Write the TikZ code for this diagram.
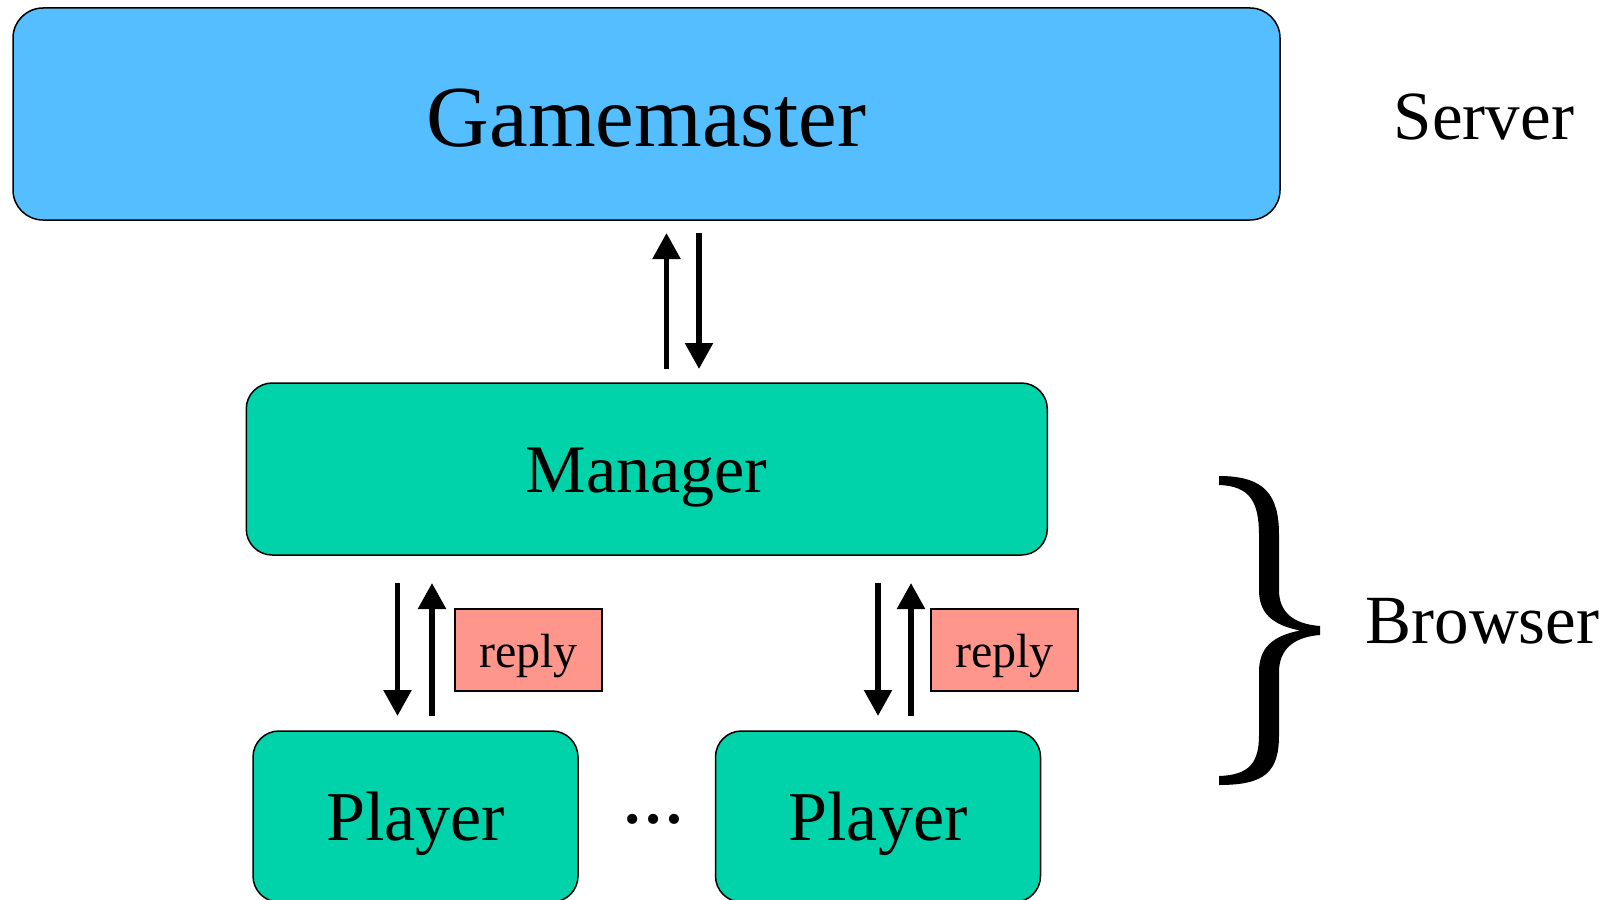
\documentclass[tikz,border=0pt]{standalone}
\usepackage{fontspec}
\setmainfont{Liberation Serif}
\usetikzlibrary{arrows.meta}
\definecolor{gmblue}{HTML}{55BEFF}
\definecolor{tealbox}{HTML}{00D2AA}
\definecolor{replyred}{HTML}{FF968C}
\begin{document}
\begin{tikzpicture}[x=1pt,y=-1pt,
  box/.style={draw=black, line width=1.5pt, rounded corners=26pt, inner sep=0pt, outer sep=0pt},
  replybox/.style={draw=black, line width=1.3pt, fill=replyred, inner sep=0pt, outer sep=0pt,
    minimum width=147pt, minimum height=82pt, text height=34pt, text depth=0pt,
    font=\fontsize{48}{52}\selectfont},
  playerbox/.style={box, fill=tealbox, minimum width=325pt, minimum height=171pt,
    text height=47pt, text depth=0pt, font=\fontsize{70}{74}\selectfont},
  sidelabel/.style={anchor=base, inner sep=0pt, font=\fontsize{69}{72}\selectfont},
  arr/.style={line width=5.5pt, -{Triangle[length=26pt,width=27pt]}}]
\useasboundingbox (0,0) rectangle (1621,899);

\node[box, rounded corners=30pt, fill=gmblue, minimum width=1267pt, minimum height=212pt,
  text height=64pt, text depth=0pt, font=\fontsize{87}{90}\selectfont] (gm) at (646.5,114) {Gamemaster};
\node[box, fill=tealbox, minimum width=801pt, minimum height=172pt,
  text height=46pt, text depth=0pt, font=\fontsize{68}{72}\selectfont] (mgr) at (646.75,469) {Manager};
\node[playerbox] (p1) at (415.5,816.5) {Player};
\node[playerbox] (p2) at (878,816.5) {Player};
\node[anchor=base, inner sep=0pt, font=\fontsize{62}{66}\selectfont\bfseries] (dots) at (653.5,823) {…};

\node[replybox] (r1) at (528.5,650) {reply};
\node[replybox] (r2) at (1004.5,650) {reply};

\node[sidelabel] (server) at (1484,139) {Server};
\node[sidelabel] (browser) at (1482.5,643) {Browser};

% Gamemaster <-> Manager
\draw[arr, shorten <=14pt, shorten >=13pt] ([xshift=20pt]gm.south |- mgr.north) -- ([xshift=20pt]gm.south);
\draw[arr, shorten <=13pt, shorten >=14pt] ([xshift=52.5pt]gm.south) -- ([xshift=52.5pt]gm.south |- mgr.north);

% Manager <-> Players
\draw[arr, shorten <=28pt, shorten >=15pt] ([xshift=-18pt]p1.north |- mgr.south) -- ([xshift=-18pt]p1.north);
\draw[arr, shorten <=15pt, shorten >=28pt] ([xshift=16.5pt]p1.north) -- ([xshift=16.5pt]p1.north |- mgr.south);
\draw[arr, shorten <=28pt, shorten >=15pt] (p2.north |- mgr.south) -- (p2.north);
\draw[arr, shorten <=15pt, shorten >=28pt] ([xshift=33pt]p2.north) -- ([xshift=33pt]p2.north |- mgr.south);

% Brace
\fill[black] (1219,476)
  .. controls (1265,476) and (1279,495) .. (1279,535)
  -- (1279,590)
  .. controls (1279,612) and (1293,624) .. (1320,626)
  -- (1320,635)
  .. controls (1293,637) and (1279,650) .. (1279,672)
  -- (1279,735)
  .. controls (1279,772) and (1265,785) .. (1219,785)
  -- (1219,776)
  .. controls (1250,775) and (1259,762) .. (1259,735)
  -- (1259,672)
  .. controls (1259,648) and (1272,636) .. (1300,630.5)
  .. controls (1272,625) and (1259,613) .. (1259,590)
  -- (1259,535)
  .. controls (1259,502) and (1250,486) .. (1219,485)
  -- cycle;
\end{tikzpicture}
\end{document}
